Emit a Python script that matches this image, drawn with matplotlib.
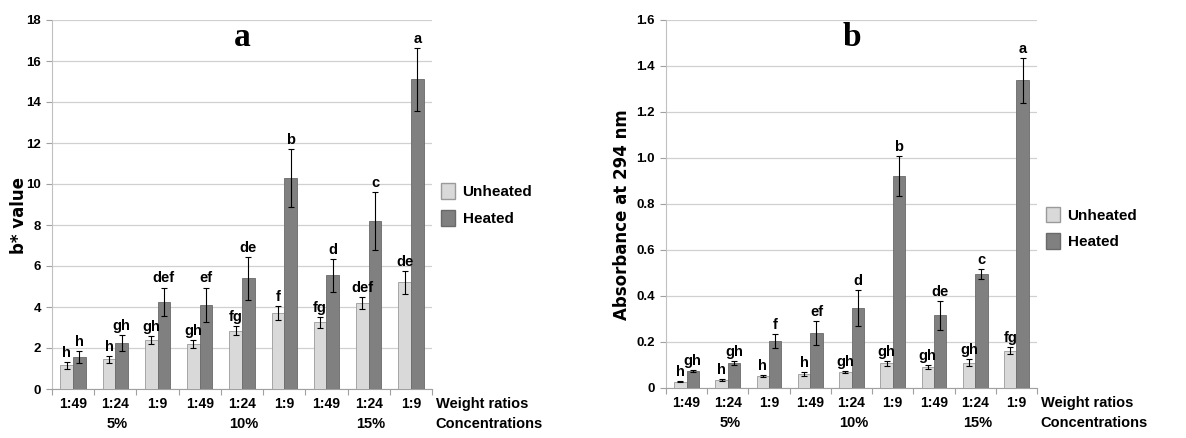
import matplotlib
matplotlib.use("Agg")
import matplotlib.pyplot as plt
import numpy as np
from matplotlib.patches import Patch

ratios = ["1:49", "1:24", "1:9", "1:49", "1:24", "1:9", "1:49", "1:24", "1:9"]
concentrations = ["5%", "10%", "15%"]

# Panel a: b* value
a_unheated = [1.15, 1.45, 2.4, 2.2, 2.85, 3.7, 3.25, 4.2, 5.2]
a_unheated_err = [0.15, 0.18, 0.2, 0.18, 0.22, 0.35, 0.25, 0.3, 0.55]
a_heated = [1.55, 2.25, 4.25, 4.1, 5.4, 10.3, 5.55, 8.2, 15.1]
a_heated_err = [0.3, 0.38, 0.7, 0.85, 1.05, 1.4, 0.8, 1.4, 1.55]
a_unheated_letters = ["h", "h", "gh", "gh", "fg", "f", "fg", "def", "de"]
a_heated_letters = ["h", "gh", "def", "ef", "de", "b", "d", "c", "a"]

# Panel b: absorbance at 294 nm
b_unheated = [0.028, 0.036, 0.053, 0.062, 0.070, 0.107, 0.092, 0.110, 0.163]
b_unheated_err = [0.003, 0.004, 0.003, 0.008, 0.004, 0.010, 0.010, 0.015, 0.015]
b_heated = [0.075, 0.110, 0.205, 0.238, 0.348, 0.922, 0.317, 0.497, 1.337]
b_heated_err = [0.004, 0.008, 0.030, 0.052, 0.080, 0.088, 0.063, 0.022, 0.098]
b_unheated_letters = ["h", "h", "h", "h", "gh", "gh", "gh", "gh", "fg"]
b_heated_letters = ["gh", "gh", "f", "ef", "d", "b", "de", "c", "a"]

NARROW = ["Liberation Sans", "DejaVu Sans"]
C_UN = "#d9d9d9"
C_HE = "#808080"

fig = plt.figure(figsize=(11.86, 4.38), dpi=100)


def panel(rect, unh, unh_err, hea, hea_err, ul, hl, ymax, ystep, ylabel, title,
          yfmt, pad, ylab_x, leg_y, tick_fs=9.5):
    ax = fig.add_axes(rect)
    n = len(unh)
    x = np.arange(n)
    w = 0.3
    ax.bar(x - w / 2, unh, w, color=C_UN, edgecolor="#9a9a9a", linewidth=0.6, zorder=3)
    ax.bar(x + w / 2, hea, w, color=C_HE, edgecolor="#6a6a6a", linewidth=0.6, zorder=3)
    ax.errorbar(x - w / 2, unh, yerr=unh_err, fmt="none", ecolor="black",
                elinewidth=0.8, capsize=2, capthick=0.8, zorder=4)
    ax.errorbar(x + w / 2, hea, yerr=hea_err, fmt="none", ecolor="black",
                elinewidth=0.8, capsize=2, capthick=0.8, zorder=4)
    for i in range(n):
        ax.text(x[i] - w / 2, unh[i] + unh_err[i] + pad, ul[i], ha="center", va="bottom",
                fontsize=10.5, fontweight="bold", family=NARROW, zorder=5)
        ax.text(x[i] + w / 2, hea[i] + hea_err[i] + pad, hl[i], ha="center", va="bottom",
                fontsize=10.5, fontweight="bold", family=NARROW, zorder=5)
    ax.set_xlim(-0.5, n - 0.5)
    ax.set_ylim(0, ymax)
    ticks = np.arange(0, ymax + ystep / 2, ystep)
    ax.set_yticks(ticks)
    ax.set_yticklabels([yfmt(t) for t in ticks], fontsize=tick_fs, fontweight="bold",
                       family=NARROW)
    ax.yaxis.grid(True, color="#d0d0d0", linewidth=0.9, zorder=0)
    ax.set_axisbelow(True)
    ax.set_xticks(np.arange(-0.5, n, 1.0))
    ax.set_xticklabels([])
    ax.tick_params(axis="x", length=4, color="#a0a0a0", width=0.8)
    ax.tick_params(axis="y", length=4, color="#a0a0a0", width=0.8, pad=4)
    for i in range(n):
        ax.text(x[i], -0.022, ratios[i], transform=ax.get_xaxis_transform(),
                ha="center", va="top", fontsize=tick_fs + 0.5, fontweight="bold", family=NARROW)
    for k, c in enumerate(concentrations):
        ax.text(1 + 3 * k + 0.05, -0.076, c, transform=ax.get_xaxis_transform(),
                ha="center", va="top", fontsize=tick_fs + 1, fontweight="bold", family=NARROW)
    ax.text(1.01, -0.022, "Weight ratios", transform=ax.transAxes, ha="left", va="top",
            fontsize=tick_fs + 1, fontweight="bold", family=NARROW)
    ax.text(1.01, -0.076, "Concentrations", transform=ax.transAxes, ha="left", va="top",
            fontsize=tick_fs + 1, fontweight="bold", family=NARROW)
    for s in ["top", "right"]:
        ax.spines[s].set_visible(False)
    ax.spines["left"].set_color("#c0c0c0")
    ax.spines["bottom"].set_color("#a0a0a0")
    ax.text(0.5, 0.995, title, transform=ax.transAxes, ha="center", va="top",
            fontsize=24, fontweight="bold", family=["Liberation Serif", "DejaVu Serif"])
    fig.text(ylab_x, rect[1] + rect[3] * 0.47, ylabel, rotation=90, ha="center",
             va="center", fontsize=12, fontweight="bold", family="DejaVu Sans")
    handles = [Patch(facecolor=C_UN, edgecolor="#9a9a9a", label="Unheated"),
               Patch(facecolor=C_HE, edgecolor="#6a6a6a", label="Heated")]
    ax.legend(handles=handles, loc="center left", bbox_to_anchor=(1.0, leg_y),
              frameon=False, prop={"family": NARROW, "weight": "bold", "size": 11},
              handlelength=0.9, handleheight=1.2, handletextpad=0.5,
              labelspacing=0.7, borderaxespad=0.2)
    return ax


panel([52 / 1186, 49 / 438, 380 / 1186, 369 / 438],
      a_unheated, a_unheated_err, a_heated, a_heated_err,
      a_unheated_letters, a_heated_letters,
      18, 2, "b* value", "a", lambda t: f"{int(t)}", 0.1, 19 / 1186, 0.50)

panel([666 / 1186, 50 / 438, 371 / 1186, 368 / 438],
      b_unheated, b_unheated_err, b_heated, b_heated_err,
      b_unheated_letters, b_heated_letters,
      1.6, 0.2, "Absorbance at 294 nm", "b",
      lambda t: "0" if abs(t) < 1e-9 else f"{t:.1f}", 0.008, 622 / 1186, 0.435)

fig.savefig("out.png", dpi=100)
